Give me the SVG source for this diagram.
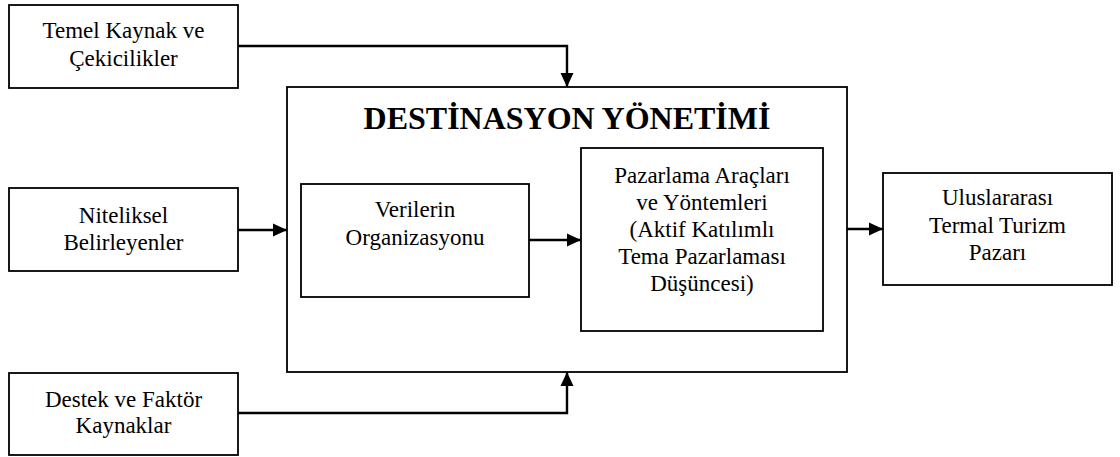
<svg xmlns="http://www.w3.org/2000/svg" width="1120" height="457" viewBox="0 0 1120 457">
<style>
.box{fill:#fff;stroke:#000;stroke-width:1.8}
text{font-family:"Liberation Serif","Times New Roman",serif;fill:#000;text-anchor:middle}
.t{font-size:23px}
.title{font-size:32px;font-weight:bold}
.c{fill:none;stroke:#000;stroke-width:2.4;marker-end:url(#ah)}
</style>
<defs>
<marker id="ah" markerUnits="userSpaceOnUse" markerWidth="14" markerHeight="14" viewBox="0 0 14 14" refX="14" refY="7" orient="auto">
<path d="M0,0.5 L14,7 L0,13.5 Z" fill="#000"/>
</marker>
</defs>
<rect width="1120" height="457" fill="#fff"/>
<g id="main">
<rect class="box" x="287" y="87" width="560" height="285"/>
<text class="title" x="567" y="129">DESTİNASYON YÖNETİMİ</text>
</g>
<g id="temel">
<rect class="box" x="9" y="5" width="229" height="83"/>
<text class="t" x="123.5" y="38">Temel Kaynak ve</text>
<text class="t" x="123.5" y="66">Çekicilikler</text>
</g>
<g id="niteliksel">
<rect class="box" x="9" y="188" width="229" height="83"/>
<text class="t" x="123.5" y="223">Niteliksel</text>
<text class="t" x="123.5" y="250">Belirleyenler</text>
</g>
<g id="destek">
<rect class="box" x="9" y="373" width="229" height="82"/>
<text class="t" x="123.5" y="407">Destek ve Faktör</text>
<text class="t" x="123.5" y="433">Kaynaklar</text>
</g>
<g id="verilerin">
<rect class="box" x="301" y="184" width="228" height="113"/>
<text class="t" x="415" y="217">Verilerin</text>
<text class="t" x="415" y="245">Organizasyonu</text>
</g>
<g id="pazarlama">
<rect class="box" x="581" y="148" width="242" height="183"/>
<text class="t" x="702" y="183">Pazarlama Araçları</text>
<text class="t" x="702" y="210">ve Yöntemleri</text>
<text class="t" x="702" y="237">(Aktif Katılımlı</text>
<text class="t" x="702" y="264">Tema Pazarlaması</text>
<text class="t" x="702" y="291">Düşüncesi)</text>
</g>
<g id="uluslararasi">
<rect class="box" x="883" y="173" width="229" height="112"/>
<text class="t" x="997.5" y="205">Uluslararası</text>
<text class="t" x="997.5" y="233">Termal Turizm</text>
<text class="t" x="997.5" y="260">Pazarı</text>
</g>
<g id="connectors">
<path class="c" d="M238,46 H567 V87"/>
<path class="c" d="M238,230 H287"/>
<path class="c" d="M238,413 H567 V372"/>
<path class="c" d="M529,240 H581"/>
<path class="c" d="M847,229 H883"/>
</g>
</svg>
